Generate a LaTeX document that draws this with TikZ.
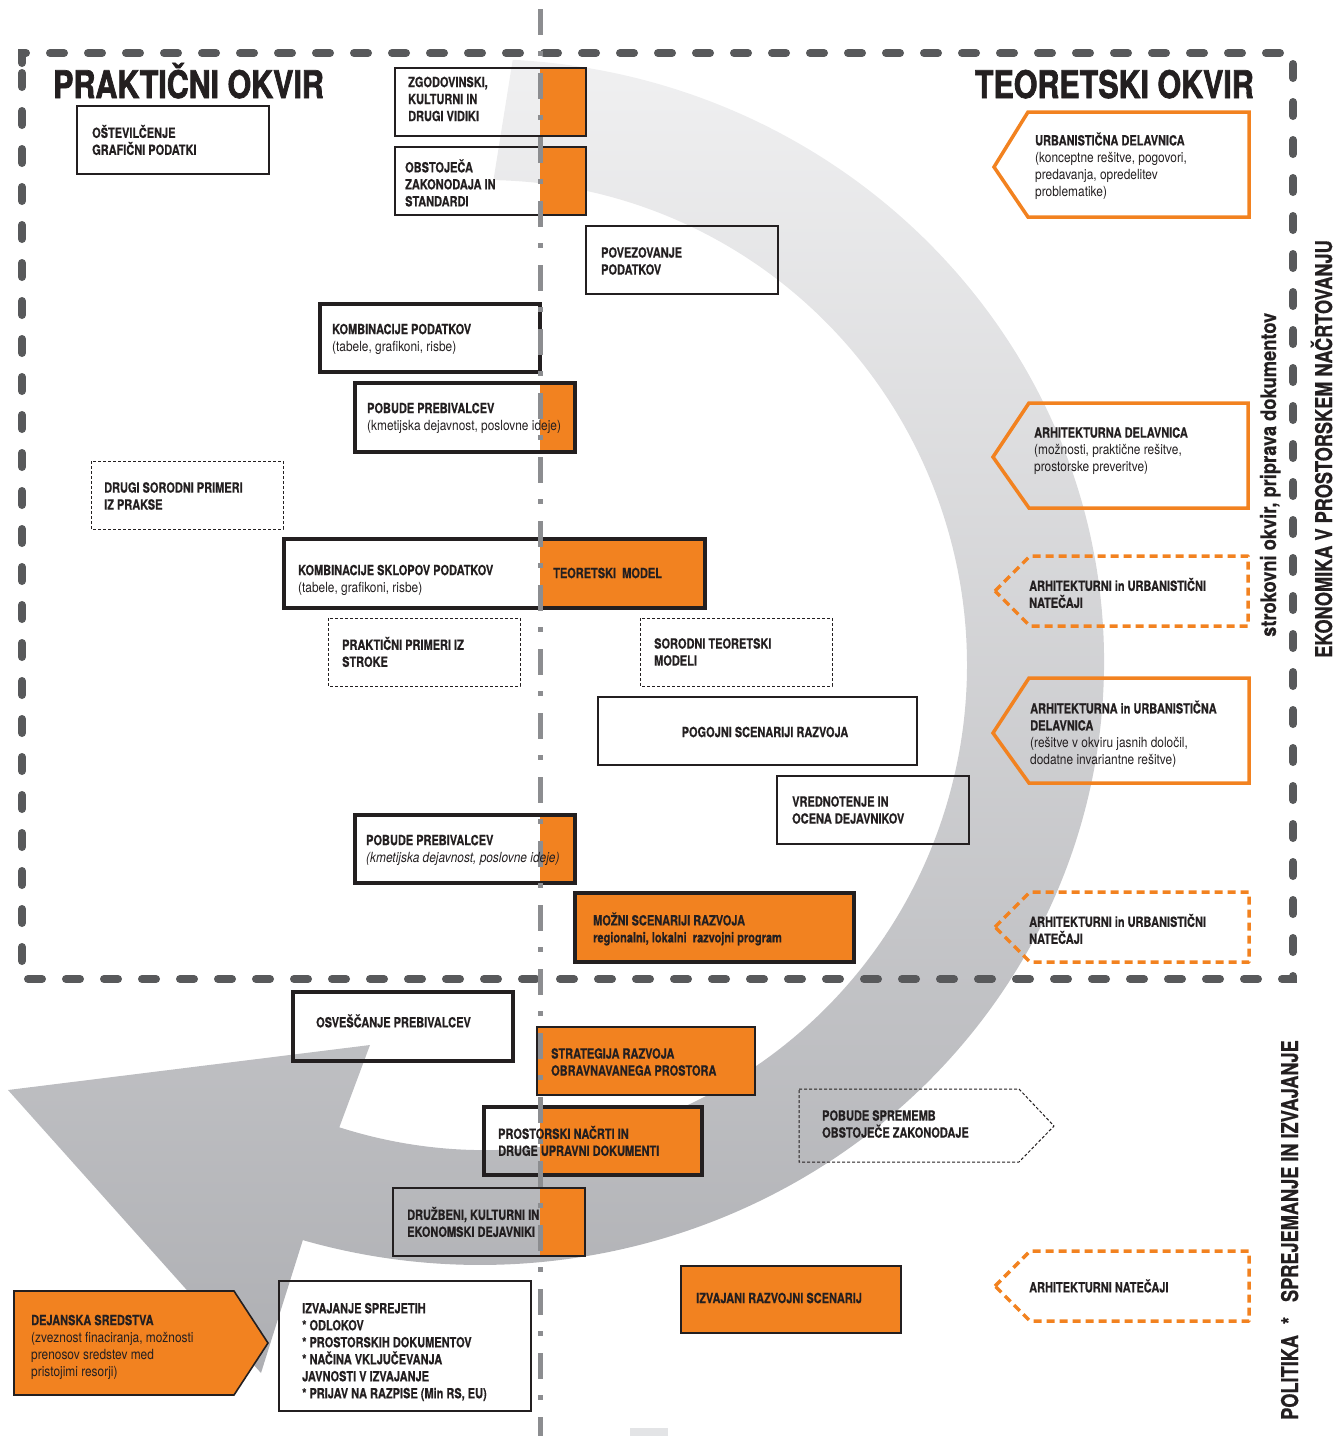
\documentclass[tikz,border=0pt]{standalone}
\usepackage{fontspec}
\setmainfont{TeX Gyre Heros}[FakeStretch=0.85]
\newfontfamily\cnB{TeX Gyre Heros}[FakeStretch=0.785,FakeBold=0.6]
\newfontfamily\cnT{TeX Gyre Heros}[FakeStretch=0.8,FakeBold=1.8]
\newfontfamily\cnV{TeX Gyre Heros}[FakeStretch=0.79,FakeBold=0.6]
\newfontfamily\cnS{TeX Gyre Heros}[FakeStretch=0.85,FakeBold=0.4]
\definecolor{orng}{RGB}{242,130,32}
\definecolor{txt}{RGB}{35,31,32}
\definecolor{boxc}{RGB}{35,31,32}
\definecolor{frm}{RGB}{88,89,91}
\definecolor{midl}{RGB}{140,141,144}
\definecolor{bandL}{RGB}{240,240,241}
\definecolor{bandD}{RGB}{174,175,179}
\definecolor{lgray}{RGB}{227,228,230}
\newcommand\lblB{\cnB\bfseries\fontsize{14}{17}\selectfont}
\newcommand\lblR{\rmfamily\mdseries\fontsize{14}{17}\selectfont}
\begin{document}
\begin{tikzpicture}[x=1pt,y=-1pt,
  lbl/.style={font=\lblB, text=txt, align=left, inner sep=0pt, anchor=west},
  thinbox/.style={draw=boxc, line width=1.6pt},
  thickbox/.style={draw=boxc, line width=3.2pt},
  dotbox/.style={draw=boxc, line width=1pt, dash pattern=on 3pt off 2pt},
  oarrow/.style={draw=orng, line width=3.5pt, line join=miter},
  odash/.style={draw=orng, line width=3.5pt, dash pattern=on 8pt off 5pt, line join=round},
  ofill/.style={fill=orng},
  vtext/.style={text=txt, rotate=90, anchor=base west, inner sep=0pt},
]
\useasboundingbox (0,0) rectangle (1337,1436);

% big curved arrow band
\path[top color=bandL, bottom color=bandD]
  (512.7,59.8) arc[start angle=-87, end angle=106.5, x radius=624, y radius=603]
  -- (261,1373) -- (8,1090) -- (370,1045) -- (339.3,1127.3)
  arc[start angle=107.6, end angle=-89, x radius=482, y radius=485] -- cycle;

\fill[lgray] (630,1428) rectangle (668,1436);

% orange fills
\fill[ofill] (540,68) rectangle (586,136);
\fill[ofill] (540,147) rectangle (586,215);
\fill[ofill] (540,383) rectangle (575,452);
\fill[ofill] (540,539) rectangle (705,608);
\fill[ofill] (540,815) rectangle (575,883);
\fill[ofill] (575,893) rectangle (854,962);
\fill[ofill] (537,1027) rectangle (755,1095);
\fill[ofill] (540,1107) rectangle (702,1175);
\fill[ofill] (540,1188) rectangle (585,1256);
\fill[ofill] (681,1266) rectangle (901,1333);

% dashed frame
\draw[draw=frm, line width=8pt, line cap=round, dash pattern=on 14pt off 24pt]
  (22,63) -- (22,53) -- (1293,53) -- (1293,979) -- (22,979) -- cycle;

% boxes
\draw[thinbox] (77,106) rectangle (269,174);
\draw[thinbox] (395,68) rectangle (586,136);
\draw[thinbox] (395,147) rectangle (586,215);
\draw[thinbox] (586,226) rectangle (778,294);
\draw[thickbox] (320,304) rectangle (540,372);
\draw[thickbox] (355,383) rectangle (575,452);
\draw[dotbox] (91,461) rectangle (283,529);
\draw[thickbox] (284,539) rectangle (705,608);
\draw[dotbox] (328,618) rectangle (520,686);
\draw[dotbox] (640,618) rectangle (832,686);
\draw[thinbox] (598,697) rectangle (917,765);
\draw[thinbox] (777,776) rectangle (969,844);
\draw[thickbox] (355,815) rectangle (575,883);
\draw[thickbox] (575,893) rectangle (854,962);
\draw[thickbox] (293,992) rectangle (513,1061);
\draw[thinbox] (537,1027) rectangle (755,1095);
\draw[thickbox] (484,1107) rectangle (702,1175);
\draw[thinbox] (393,1188) rectangle (585,1256);
\draw[thinbox] (279,1281) rectangle (531,1411);
\draw[thinbox] (681,1266) rectangle (901,1333);
\draw[thinbox, fill=orng] (14,1291) -- (234,1291) -- (268,1343) -- (234,1395) -- (14,1395) -- cycle;
\draw[dotbox] (799,1089) -- (1019,1089) -- (1054,1126) -- (1019,1162) -- (799,1162) -- cycle;

% right side arrows
\draw[oarrow] (994,167) -- (1028,112) -- (1249,112) -- (1249,217) -- (1028,217) -- cycle;
\draw[oarrow] (993,457) -- (1029,403) -- (1248,403) -- (1248,508) -- (1029,508) -- cycle;
\draw[odash] (995,591) -- (1030,556) -- (1248,556) -- (1248,626) -- (1030,626) -- cycle;
\draw[oarrow] (993,733) -- (1029,678) -- (1249,678) -- (1249,783) -- (1029,783) -- cycle;
\draw[odash] (995,927) -- (1030,892) -- (1249,892) -- (1249,962) -- (1030,962) -- cycle;
\draw[odash] (995,1286) -- (1030,1251) -- (1249,1251) -- (1249,1321) -- (1030,1321) -- cycle;

% vertical dash-dot line
\draw[draw=midl, line width=5pt, dash pattern=on 26pt off 16pt on 5pt off 17pt] (540,9) -- (540,1436);

% titles
\node[font=\cnT\bfseries\fontsize{38}{38}\selectfont, text=txt, anchor=base west, inner sep=0pt] (tP) at (53,98) {PRAKTIČNI OKVIR};
\node[font=\cnT\bfseries\fontsize{38}{38}\selectfont, text=txt, anchor=base east, inner sep=0pt] (tT) at (1254,98) {TEORETSKI OKVIR};

% labels
\node[lbl] (t1) at (92,140) {OŠTEVILČENJE\\GRAFIČNI PODATKI};
\node[lbl] (t2) at (408,99) {ZGODOVINSKI,\\KULTURNI IN\\DRUGI VIDIKI};
\node[lbl] (t3) at (405,183) {OBSTOJEČA\\ZAKONODAJA IN\\STANDARDI};
\node[lbl] (t4) at (601,261) {POVEZOVANJE\\PODATKOV};
\node[lbl] (t5) at (332,339) {KOMBINACIJE PODATKOV\\{\lblR (tabele, grafikoni, risbe)}};
\node[lbl] (t6) at (367,418) {POBUDE PREBIVALCEV\\{\lblR (kmetijska dejavnost, poslovne ideje)}};
\node[lbl] (t7) at (104,496) {DRUGI SORODNI PRIMERI\\IZ PRAKSE};
\node[lbl] (t8) at (298,580) {KOMBINACIJE SKLOPOV PODATKOV\\{\lblR (tabele, grafikoni, risbe)}};
\node[lbl] (t8b) at (553,573) {TEORETSKI\ \ MODEL};
\node[lbl] (t9) at (342,652) {PRAKTIČNI PRIMERI IZ\\STROKE};
\node[lbl] (t10) at (654,652) {SORODNI TEORETSKI\\MODELI};
\node[lbl, anchor=center] (t11) at (765,732) {POGOJNI SCENARIJI RAZVOJA};
\node[lbl] (t12) at (792,810) {VREDNOTENJE IN\\OCENA DEJAVNIKOV};
\node[lbl] (t13) at (366,850) {POBUDE PREBIVALCEV\\{\lblR\itshape (kmetijska dejavnost, poslovne ideje)}};
\node[lbl] (t14) at (593,929) {MOŽNI SCENARIJI RAZVOJA\\regionalni, lokalni\ \ razvojni program};
\node[lbl] (t15) at (316,1021) {OSVEŠČANJE PREBIVALCEV};
\node[lbl] (t16) at (551,1062) {STRATEGIJA RAZVOJA\\OBRAVNAVANEGA PROSTORA};
\node[lbl] (t17) at (498,1141) {PROSTORSKI NAČRTI IN\\DRUGE UPRAVNI DOKUMENTI};
\node[lbl] (t18) at (407,1222) {DRUŽBENI, KULTURNI IN\\EKONOMSKI DEJAVNIKI};
\node[lbl] (t19) at (31,1347) {DEJANSKA SREDSTVA\\{\lblR (zveznost finaciranja, možnosti}\\{\lblR prenosov sredstev med}\\{\lblR pristojimi resorji)}};
\node[lbl] (t20) at (302,1352) {IZVAJANJE SPREJETIH\\{}* ODLOKOV\\{}* PROSTORSKIH DOKUMENTOV\\{}* NAČINA VKLJUČEVANJA\\JAVNOSTI V IZVAJANJE\\{}* PRIJAV NA RAZPISE (Min RS, EU)};
\node[lbl] (t21) at (696,1298) {IZVAJANI RAZVOJNI SCENARIJ};
\node[lbl] (t22) at (822,1124) {POBUDE SPREMEMB\\OBSTOJEČE ZAKONODAJE};
\node[lbl] (t23) at (1035,166) {URBANISTIČNA DELAVNICA\\{\lblR (konceptne rešitve, pogovori,}\\{\lblR predavanja, opredelitev}\\{\lblR problematike)}};
\node[lbl] (t24) at (1034,451) {ARHITEKTURNA DELAVNICA\\{\lblR (možnosti, praktične rešitve,}\\{\lblR prostorske preveritve)}};
\node[lbl] (t25) at (1029,593) {ARHITEKTURNI in URBANISTIČNI\\NATEČAJI};
\node[lbl] (t26) at (1030,734) {ARHITEKTURNA in URBANISTIČNA\\DELAVNICA\\{\lblR (rešitve v okviru jasnih določil,}\\{\lblR dodatne invariantne rešitve)}};
\node[lbl] (t27) at (1029,929) {ARHITEKTURNI in URBANISTIČNI\\NATEČAJI};
\node[lbl] (t28) at (1029,1286) {ARHITEKTURNI NATEČAJI};

% vertical texts
\node[vtext, font=\cnS\bfseries\fontsize{21.5}{21.5}\selectfont] (vS) at (1276,637) {strokovni okvir, priprava dokumentov};
\node[vtext, font=\cnV\bfseries\fontsize{23}{23}\selectfont] (vE) at (1332,658) {EKONOMIKA V PROSTORSKEM NAČRTOVANJU};
\node[vtext, font=\cnV\bfseries\fontsize{23}{23}\selectfont] (vP) at (1298,1420) {POLITIKA\hspace{11pt}*\hspace{15pt}SPREJEMANJE IN IZVAJANJE};
\end{tikzpicture}
\end{document}
